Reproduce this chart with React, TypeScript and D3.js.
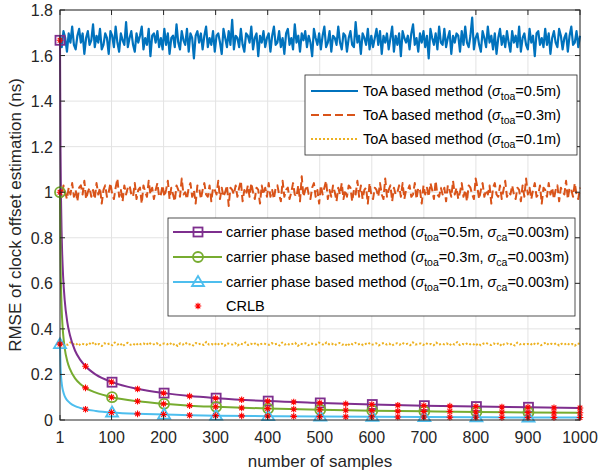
import React from 'react';
import * as d3 from 'd3';

// ToA based estimates: deviations around the mean level
const toaLevels = [1.667, 1.0, 0.333];
const blueDev = [
  2,-3,4,1,-5,3,-1,6,-2,-4,2,5,-1,3,-6,1,4,-2,0,7,
  -3,2,-1,5,-4,-2,3,1,-6,4,2,-3,6,-1,-5,3,0,-2,8,-3,
  1,4,-2,-5,3,-1,2,6,-4,1,-2,5,-7,2,3,-1,4,-3,1,-4,
  5,-2,3,-6,1,2,-3,7,-1,-4,4,0,-2,5,-5,3,1,-8,2,4,
  -1,3,-4,2,6,-3,1,-2,4,-5,2,3,-1,-6,5,1,-3,4,-2,9,
  -4,2,1,-3,5,-2,-5,3,2,-1,6,-4,1,3,-7,2,-1,4,-3,1,
  3,-5,2,6,-2,-1,4,-3,1,-6,3,5,-2,1,-4,7,-1,2,-5,3,
  0,4,-3,2,-1,-7,5,1,-2,3,-4,2,6,-3,-1,4,-5,2,1,-2,
  6,-1,-4,3,2,-5,1,4,-2,-3,8,-1,2,-6,3,1,-2,5,-4,2,
  -3,1,5,-2,4,-6,2,-1,3,-4,1,6,-5,2,-2,3,-7,4,1,-1,
  2,-4,3,7,-2,1,-5,3,-1,4,-3,2,-8,5,1,-2,3,-4,6,-1,
  -2,5,-3,1,4,-6,2,-1,3,2,-5,4,-2,6,-1,-3,2,10,-4,1,
  3,-2,-5,4,1,-3,6,-1,2,-4,3,-6,1,5,-2,2,-3,4,-1,-5,
  4,-1,2,-3,6,-5,1,3,-2,-4,5,-1,2,-7,3,4,-2,1,-3,5,
  -2,3,-6,1,4,-1,-3,5,2,-4,1,3,-5,2,6,-2,-1,4,-3,2,
]; // x0.01 ns
const orangeDev = [
  1,-2,3,0,-3,2,-1,4,-2,1,-4,2,3,-1,5,-3,0,2,-2,1,
  -3,4,-1,2,-5,1,3,-2,0,4,-1,-3,2,6,-2,1,-4,3,-1,2,
  3,-1,-2,4,-3,1,2,-5,3,0,-2,5,-1,2,-3,1,4,-2,-1,3,
  -2,1,5,-3,2,-1,-4,3,1,-2,6,-1,0,-3,2,4,-2,1,-5,3,
  2,-3,1,4,-1,-2,3,-4,2,1,-1,5,-3,2,-2,0,3,-6,2,1,
  -1,3,-2,2,5,-4,1,-1,3,-2,4,0,-3,2,1,-5,3,-1,2,-2,
  4,-2,1,-3,2,3,-1,-4,5,-2,1,2,-3,0,4,-1,-2,3,-4,7,
  -2,1,3,-1,-3,2,4,-2,1,-5,3,-1,2,5,-3,1,-2,3,0,-4,
  2,-1,4,-3,1,-2,3,2,-4,1,-1,5,-2,3,-3,1,2,-5,4,-1,
  -3,2,1,-2,4,-1,-3,6,-2,1,3,-4,2,-1,0,3,-2,4,-3,1,
  1,3,-2,-1,4,-3,2,1,-5,3,-1,2,-2,4,1,-3,5,-1,-2,2,
  -1,2,-4,3,1,-2,5,-1,2,-3,0,4,-2,1,-4,3,2,-1,-3,6,
  2,-3,1,4,-2,1,-1,3,-5,2,4,-1,-2,3,-3,1,5,-2,0,-1,
  3,-1,-3,2,1,-4,3,-2,6,-1,2,-3,1,4,-2,-1,3,-5,2,1,
  -2,4,-1,2,-3,1,3,-4,2,0,-1,5,-3,2,1,-2,4,-1,-3,2,
]; // x0.01 ns
const yellowDev = [
  4,-6,2,-3,8,-1,5,-7,3,0,-4,6,-2,9,-5,1,-8,4,-1,3,
  -5,7,-2,4,-9,1,6,-3,2,-6,5,-1,3,-4,8,-2,0,5,-7,2,
  3,-1,6,-5,2,-8,4,-2,7,-3,1,-6,5,-1,3,-4,10,-2,1,-5,
  6,-3,2,-7,4,0,-2,5,-6,3,-1,8,-4,2,-3,6,-5,1,4,-2,
  -3,5,-1,2,-6,7,-2,3,-4,1,6,-8,2,-1,4,-5,3,0,-2,7,
  2,-4,8,-1,3,-6,1,5,-3,2,-9,4,-1,6,-2,3,-5,1,7,-3,
  -1,4,-6,2,5,-2,3,-7,1,4,-3,6,-1,2,-5,8,-2,0,3,-4,
  5,-2,1,-5,7,-3,2,-1,4,-6,3,-2,9,-4,1,-3,5,-1,2,-7,
  3,-5,2,6,-1,-4,3,-2,5,-8,1,4,-3,2,-6,7,-1,3,-2,1,
  -4,6,-2,3,-5,1,8,-3,2,-1,4,-6,2,-2,5,-3,1,-7,4,0,
]; // x0.001 ns

// carrier phase based estimates
const carrierN = [1,2,3,4,5,7,10,15,20,30,40,50,70,101,151,201,251,301,401,501,601,701,801,901,1000];
const carrier05 = [1.667,1.179,0.962,0.833,0.745,0.630,0.527,0.430,0.373,0.304,0.264,0.236,0.199,0.166,0.136,0.118,0.105,0.096,0.083,0.075,0.068,0.063,0.059,0.056,0.053];
const carrier03 = [1.0,0.707,0.577,0.5,0.447,0.378,0.316,0.258,0.224,0.183,0.158,0.141,0.120,0.100,0.082,0.071,0.063,0.058,0.050,0.045,0.041,0.038,0.035,0.033,0.032];
const carrier01 = [0.333,0.236,0.192,0.167,0.149,0.126,0.105,0.086,0.075,0.061,0.053,0.047,0.040,0.033,0.027,0.024,0.021,0.019,0.017,0.015,0.014,0.013,0.012,0.011,0.011];
const markerN = [1,101,201,301,401,501,601,701,801,901];

// CRLB
const crlbN = [1,50,100,150,200,250,300,350,400,450,500,550,600,650,700,750,800,850,900,950,1000];
const crlb05 = [1.667,0.236,0.167,0.136,0.118,0.105,0.096,0.089,0.083,0.079,0.075,0.071,0.068,0.065,0.063,0.061,0.059,0.057,0.056,0.054,0.053];
const crlb03 = [1.0,0.141,0.100,0.082,0.071,0.063,0.058,0.053,0.050,0.047,0.045,0.043,0.041,0.039,0.038,0.037,0.035,0.034,0.033,0.032,0.032];
const crlb01 = [0.333,0.047,0.033,0.027,0.024,0.021,0.019,0.018,0.017,0.016,0.015,0.014,0.014,0.013,0.013,0.012,0.012,0.011,0.011,0.011,0.011];

const xTicks = [1,100,200,300,400,500,600,700,800,900,1000];
const yTicks = [0,0.2,0.4,0.6,0.8,1,1.2,1.4,1.6,1.8];

const W = 598, H = 472;
const L = 60, R = 580, T = 10, B = 420;
const FONT = '"Liberation Sans", Arial, Helvetica, sans-serif';
const AX = '#262626';

const BLUE = '#0072BD', ORANGE = '#D95319', YELLOW = '#EDB120';
const PURPLE = '#7E2F8E', GREEN = '#77AC30', LBLUE = '#4DBEEE', RED = '#FF0000';

const x = d3.scaleLinear().domain([1, 1000]).range([L, R]);
const y = d3.scaleLinear().domain([0, 1.8]).range([B, T]);

const starPath = (s: number) => {
  const a = s * 0.7;
  return `M${-s},0L${s},0M0,${-s}L0,${s}M${-a},${-a}L${a},${a}M${-a},${a}L${a},${-a}`;
};

const Marker = ({ kind, color, cx, cy }: { kind: string; color: string; cx: number; cy: number }) => {
  if (kind === 'square') return <rect x={cx - 4.5} y={cy - 4.5} width={9} height={9} fill="none" stroke={color} strokeWidth={1.8} />;
  if (kind === 'circle') return <circle cx={cx} cy={cy} r={5} fill="none" stroke={color} strokeWidth={1.8} />;
  if (kind === 'triangle') return <path d={`M${cx},${cy - 6}L${cx + 6},${cy + 4}L${cx - 6},${cy + 4}Z`} fill="none" stroke={color} strokeWidth={1.8} />;
  return <path d={starPath(3.3)} transform={`translate(${cx},${cy})`} stroke={RED} strokeWidth={1.1} fill="none" />;
};

const Sigma = ({ sub, val }: { sub: string; val: string }) => (
  <>
    <tspan fontStyle="italic">σ</tspan>
    <tspan fontSize={10.5} dy={4}>{sub}</tspan>
    <tspan dy={-4}>{val}</tspan>
  </>
);

export default function App() {
  const toaSeries = [blueDev, orangeDev, yellowDev].map((dev, k) =>
    dev.map((d, i) => ({
      n: 1 + (i * 999) / (dev.length - 1),
      v: toaLevels[k] + d * (k === 2 ? 0.001 : 0.01),
    })),
  );
  const toaLine = d3.line<{ n: number; v: number }>().x(d => x(d.n)).y(d => y(d.v));
  const carrierLine = d3
    .line<number>()
    .x((_, i) => x(carrierN[i]))
    .y(d => y(d))
    .curve(d3.curveMonotoneX);

  const carriers = [
    { vals: carrier05, color: PURPLE, kind: 'square' },
    { vals: carrier03, color: GREEN, kind: 'circle' },
    { vals: carrier01, color: LBLUE, kind: 'triangle' },
  ];
  const toaStyles = [
    { color: BLUE, dash: undefined, w: 2.2 },
    { color: ORANGE, dash: '8,4', w: 2 },
    { color: YELLOW, dash: '2,2', w: 2 },
  ];
  const legendDash = [undefined, '8,4', '2,2'];

  return (
    <svg width={W} height={H} style={{ position: 'absolute', left: 0, top: 0, background: '#fff' }} fontFamily={FONT}>
      <rect width={W} height={H} fill="#fff" />
      {/* grid */}
      {xTicks.slice(1).map(t => (
        <line key={'gx' + t} x1={x(t)} x2={x(t)} y1={T} y2={B} stroke="#e3e3e3" strokeWidth={1} />
      ))}
      {yTicks.slice(1).map(t => (
        <line key={'gy' + t} x1={L} x2={R} y1={y(t)} y2={y(t)} stroke="#e3e3e3" strokeWidth={1} />
      ))}

      {/* ToA lines */}
      {toaSeries.map((s, k) => (
        <path key={'toa' + k} d={toaLine(s) || ''} fill="none" stroke={toaStyles[k].color}
          strokeWidth={toaStyles[k].w} strokeDasharray={toaStyles[k].dash} strokeLinejoin="round" />
      ))}

      {/* carrier phase curves */}
      {carriers.map((c, k) => (
        <g key={'cp' + k}>
          <path d={carrierLine(c.vals) || ''} fill="none" stroke={c.color} strokeWidth={2} />
          {carrierN.map((n, i) =>
            markerN.includes(n) ? <Marker key={i} kind={c.kind} color={c.color} cx={x(n)} cy={y(c.vals[i])} /> : null,
          )}
        </g>
      ))}

      {/* CRLB */}
      {[crlb05, crlb03, crlb01].map((vals, k) => (
        <g key={'cr' + k}>
          {vals.map((v, i) => (
            <Marker key={i} kind="star" color={RED} cx={x(crlbN[i])} cy={y(v)} />
          ))}
        </g>
      ))}

      {/* axes box + ticks */}
      <rect x={L} y={T} width={R - L} height={B - T} fill="none" stroke={AX} strokeWidth={1} />
      {xTicks.map(t => (
        <g key={'tx' + t}>
          <line x1={x(t)} x2={x(t)} y1={B} y2={B - 5} stroke={AX} />
          <line x1={x(t)} x2={x(t)} y1={T} y2={T + 5} stroke={AX} />
          <text x={x(t)} y={B + 23} textAnchor="middle" fontSize={16} fill={AX}>{t}</text>
        </g>
      ))}
      {yTicks.map(t => (
        <g key={'ty' + t}>
          <line x1={L} x2={L + 5} y1={y(t)} y2={y(t)} stroke={AX} />
          <line x1={R} x2={R - 5} y1={y(t)} y2={y(t)} stroke={AX} />
          <text x={L - 7} y={y(t) + 6} textAnchor="end" fontSize={16} fill={AX}>{String(t)}</text>
        </g>
      ))}
      <text x={(L + R) / 2} y={467} textAnchor="middle" fontSize={17} fill={AX}>number of samples</text>
      <text transform={`translate(21,${(T + B) / 2}) rotate(-90)`} textAnchor="middle" fontSize={17} fill={AX}>
        RMSE of clock offset estimation (ns)
      </text>

      {/* legend 1 */}
      <g>
        <rect x={305} y={75} width={272} height={80} fill="#fff" stroke={AX} strokeWidth={0.8} />
        {['=0.5m)', '=0.3m)', '=0.1m)'].map((lab, k) => {
          const yy = 91 + k * 24;
          return (
            <g key={'l1' + k}>
              <line x1={311} x2={358} y1={yy} y2={yy} stroke={toaStyles[k].color} strokeWidth={toaStyles[k].w}
                strokeDasharray={legendDash[k]} />
              <text x={363} y={yy + 5} fontSize={14.5} fill="#000">
                ToA based method (<Sigma sub="toa" val={lab} />
              </text>
            </g>
          );
        })}
      </g>

      {/* legend 2 */}
      <g>
        <rect x={168} y={218} width={407} height={98} fill="#fff" stroke={AX} strokeWidth={0.8} />
        {['=0.5m, ', '=0.3m, ', '=0.1m, '].map((lab, k) => {
          const yy = 232 + k * 25;
          const c = carriers[k];
          return (
            <g key={'l2' + k}>
              <line x1={173} x2={222} y1={yy} y2={yy} stroke={c.color} strokeWidth={2} />
              <Marker kind={c.kind} color={c.color} cx={198} cy={yy} />
              <text x={226} y={yy + 5} fontSize={14.5} fill="#000">
                carrier phase based method (<Sigma sub="toa" val={lab} />
                <Sigma sub="ca" val="=0.003m)" />
              </text>
            </g>
          );
        })}
        <Marker kind="star" color={RED} cx={198} cy={306} />
        <text x={226} y={311} fontSize={14.5} fill="#000">CRLB</text>
      </g>
    </svg>
  );
}
